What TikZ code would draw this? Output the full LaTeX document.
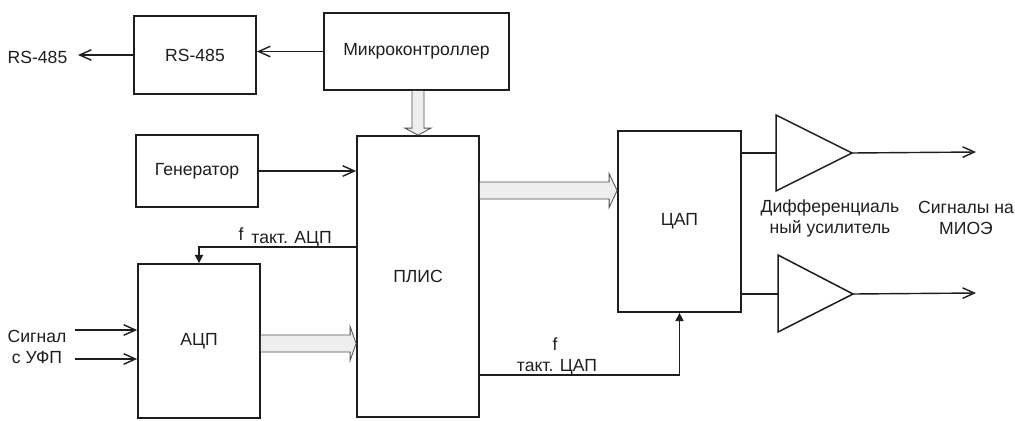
\documentclass[tikz,border=0pt]{standalone}
\usepackage{fontspec}
\setmainfont{Liberation Sans}
\usepackage{xcolor}
\usetikzlibrary{arrows.meta, positioning, calc}
\definecolor{skink}{RGB}{30,30,30}
\definecolor{skbus}{RGB}{238,238,238}
\definecolor{skbusline}{RGB}{80,80,80}
\tikzset{
  lbl/.style={font=\fontsize{15}{18}\selectfont, text=skink, inner sep=1pt},
  blk/.style={lbl, draw=skink, line width=1.5pt, rectangle, inner sep=0pt},
  wire/.style={draw=skink, line width=1.2pt},
  sig/.style={wire, -{Straight Barb[length=10pt, width=9pt, line width=1.2pt]}},
  clk/.style={wire, -{Triangle[length=7pt, width=7pt]}},
  bus/.style={draw=skbusline, line width=0.7pt, fill=skbus, line join=miter}
}

\begin{document}
\begin{tikzpicture}[x=0.03cm, y=-0.03cm]
\useasboundingbox (0,0) rectangle (1015,420);

% ---- top row ----
\node[blk, minimum width=3.66cm, minimum height=2.34cm] (rs) at (195,55) {RS-485};
\node[blk, minimum width=5.55cm, minimum height=2.31cm] (mcu) at (416.5,51.5) {Микроконтроллер};
\node[lbl] (rslbl) at (37.5,57) {RS-485};
\coordinate (rsout) at (78,55);
\draw[sig] (mcu.west) -- (mcu.west -| rs.east);
\draw[sig] (rs.west) -- (rsout);

% ---- main blocks ----
\node[blk, minimum width=3.66cm, minimum height=2.16cm] (gen) at (197,171) {Генератор};
\node[blk, minimum width=3.66cm, minimum height=8.43cm] (plis) at (418,276.5) {ПЛИС};
\node[blk, minimum width=3.66cm, minimum height=4.62cm] (adc) at (199,341) {АЦП};
\node[blk, minimum width=3.69cm, minimum height=5.43cm] (dac) at (679.5,221.5) {ЦАП};

\draw[sig] (gen.east) -- (gen.east -| plis.west);

% inputs
\node[lbl, align=center] (siglbl) at (37,347) {Сигнал\\с УФП};
\coordinate (s1) at (75,330);
\coordinate (s2) at (75,359);
\draw[sig] (s1) -- (s1 -| adc.west);
\draw[sig] (s2) -- (s2 -| adc.west);

% clocks
\draw[clk] (plis.west |- 0,247) -| (adc.north);
\node[lbl, anchor=base] (fadc) at (241,240) {f};
\node[lbl, anchor=base west] (fadcsub) at (250,243.5) {такт. АЦП};

\draw[clk] (plis.east |- 0,375) -| (dac.south);
\node[lbl, anchor=base] (fdac) at (555,350) {f};
\node[lbl, anchor=base] (fdacsub) at (557,371) {такт. ЦАП};

% ---- buses ----
\coordinate (b1s) at (plis.east |- 0,190.5);
\coordinate (b1e) at (dac.west |- 0,190.5);
\draw[bus] ($(b1s)+(0,-8.5)$) -- ($(b1e)+(-8,-8.5)$) -- ($(b1e)+(-8,-17)$) -- (b1e)
  -- ($(b1e)+(-8,17)$) -- ($(b1e)+(-8,8.5)$) -- ($(b1s)+(0,8.5)$);

\coordinate (b2s) at (adc.east |- 0,343.5);
\coordinate (b2e) at (plis.west |- 0,343.5);
\draw[bus] ($(b2s)+(0,-8.5)$) -- ($(b2e)+(-6,-8.5)$) -- ($(b2e)+(-6,-17)$) -- (b2e)
  -- ($(b2e)+(-6,17)$) -- ($(b2e)+(-6,8.5)$) -- ($(b2s)+(0,8.5)$);

\coordinate (b3s) at (plis.north |- mcu.south);
\coordinate (b3e) at (plis.north);
\draw[bus] ($(b3s)+(-6,0)$) -- ($(b3e)+(-6,-7)$) -- ($(b3e)+(-13,-7)$) -- (b3e)
  -- ($(b3e)+(13,-7)$) -- ($(b3e)+(6,-7)$) -- ($(b3s)+(6,0)$);

% ---- amplifiers ----
\coordinate (a1) at (776,153);
\coordinate (a1o) at ($(a1)+(76,0)$);
\coordinate (a2) at (778,294);
\coordinate (a2o) at ($(a2)+(75,0)$);
\draw[wire, line width=1.3pt, line join=miter] ($(a1)+(0,-38)$) -- (a1o) -- ($(a1)+(0,38)$) -- cycle;
\draw[wire, line width=1.3pt, line join=miter] ($(a2)+(0,-39)$) -- (a2o) -- ($(a2)+(0,38)$) -- cycle;

\draw[wire] (dac.east |- a1) -- (a1);
\draw[wire] (dac.east |- a2) -- (a2);

\coordinate (o1) at (976,152);
\coordinate (o2) at (976,293);
\draw[sig] (a1o) -- (o1);
\draw[sig] (a2o) -- (o2);

\node[lbl, align=center] (amplbl) at (830,218) {Дифференциаль\\ный усилитель};
\node[lbl, align=center] (outlbl) at (966,218) {Сигналы на\\МИОЭ};
\end{tikzpicture}
\end{document}
